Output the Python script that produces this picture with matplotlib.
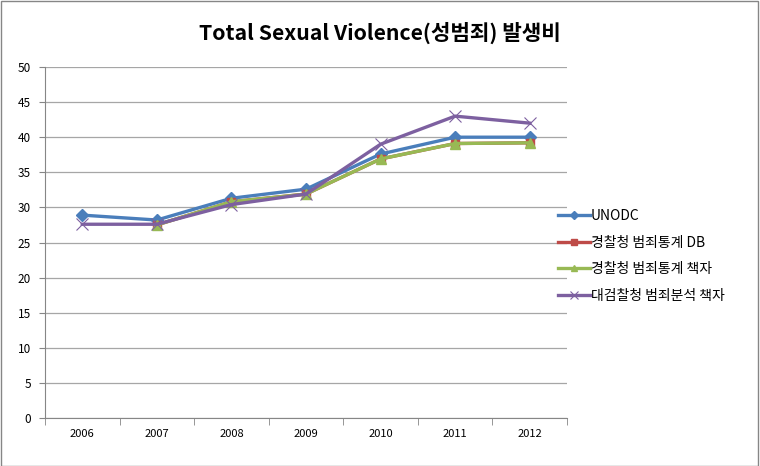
import numpy as np
import matplotlib.pyplot as plt

plt.rcParams['font.family'] = ['Noto Sans CJK KR', 'DejaVu Sans']

years = ['2006', '2007', '2008', '2009', '2010', '2011', '2012']
unodc = [28.9, 28.2, 31.3, 32.6, 37.6, 40.0, 40.0]
police_db = [np.nan, 27.5, 30.8, 31.9, 36.9, 39.1, 39.2]
police_book = [np.nan, 27.5, 30.8, 31.9, 36.9, 39.1, 39.2]
prosecution_book = [27.6, 27.6, 30.4, 31.9, 39.0, 43.0, 42.0]

labels = ['UNODC', '경찰청 범죄통계 DB', '경찰청 범죄통계 책자', '대검찰청 범죄분석 책자']

fig = plt.figure(figsize=(7.6, 4.66), dpi=100)
ax = fig.add_axes([45 / 760, 48 / 466, 522 / 760, 351 / 466])

x = np.arange(len(years))
ax.plot(x, unodc, color='#4A7EBB', lw=2.4, marker='D', ms=6, label=labels[0], zorder=3)
ax.plot(x, police_db, color='#BE4B48', lw=2.4, marker='s', ms=6, label=labels[1], zorder=3)
ax.plot(x, police_book, color='#98B954', lw=2.4, marker='^', ms=7, label=labels[2], zorder=3)
ax.plot(x, prosecution_book, color='#7D60A0', lw=2.4, marker='x', ms=8, mew=0.8, label=labels[3], zorder=4)

ax.set_xlim(-0.5, 6.5)
ax.set_ylim(0, 50)
ax.set_yticks(range(0, 51, 5))
ax.set_xticks(x)
ax.set_xticklabels(years)
ax.set_xticks(np.arange(-0.5, 7, 1), minor=True)
ax.tick_params(axis='x', which='major', length=0, labelsize=8, pad=8)
ax.tick_params(axis='x', which='minor', length=5, color='#868686', direction='out')
ax.tick_params(axis='y', length=4, color='#868686', labelsize=8.5, pad=6)
ax.grid(axis='y', color='#A6A6A6', lw=0.9)
ax.set_axisbelow(True)
for s in ['top', 'right']:
    ax.spines[s].set_visible(False)
for s in ['left', 'bottom']:
    ax.spines[s].set_color('#868686')

fig.text(0.5, 0.93, 'Total Sexual Violence(성범죄) 발생비', ha='center', va='center',
         fontsize=15.3, fontweight='bold')

fig.legend(loc='center left', bbox_to_anchor=(552 / 760, 1 - 256 / 466), frameon=False,
           fontsize=10, handlelength=2.3, handletextpad=0.1, labelspacing=0.9,
           borderaxespad=0, markerscale=0.7)

fig.patches.append(plt.Rectangle((0.001, 0.001), 0.997, 0.997, transform=fig.transFigure,
                                 fill=False, edgecolor='#868686', lw=1))

fig.savefig('out.png', dpi=100)
